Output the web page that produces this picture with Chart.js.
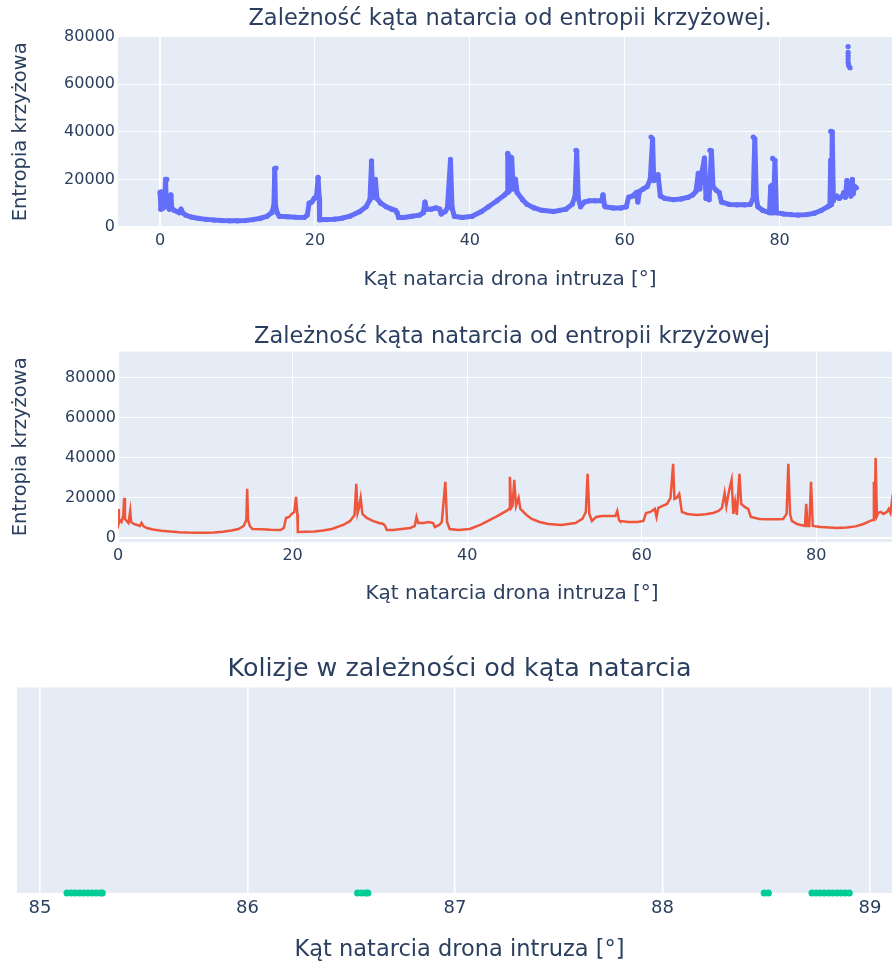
<!DOCTYPE html>
<html>
<head>
<meta charset="utf-8">
<script src="https://cdn.jsdelivr.net/npm/chart.js@4"></script>
<style>
  html, body { margin: 0; background: #fff; overflow: hidden; }
  canvas { position: absolute; left: 0; }
</style>
</head>
<body>
<canvas id="scatter-chart" width="906" height="300" style="top:0px"></canvas>
<canvas id="line-chart" width="906" height="320" style="top:300px"></canvas>
<canvas id="collision-chart" width="906" height="344" style="top:620px"></canvas>
<script>
// angle of attack [deg] vs cross entropy
const angles = [
  0.0, 0.1, 0.2, 0.4, 0.6, 0.7, 0.8, 1.0, 1.2, 1.4,
  1.5, 1.8, 2.2, 2.5, 2.7, 2.9, 3.3, 4.0, 5.0, 6.0,
  7.0, 8.0, 9.0, 10.0, 11.0, 12.0, 13.0, 13.8, 14.4, 14.7,
  14.8, 14.9, 15.1, 15.4, 16.5, 17.5, 18.6, 19.0, 19.25, 19.6,
  19.9, 20.2, 20.4, 20.55, 20.6, 21.5, 22.5, 23.5, 24.5, 25.8,
  26.6, 27.1, 27.3, 27.45, 27.6, 27.8, 28.0, 28.5, 29.2, 29.9,
  30.4, 30.6, 30.8, 31.5, 32.5, 33.5, 34.0, 34.2, 34.4, 35.0,
  35.6, 36.1, 36.3, 36.8, 37.1, 37.5, 37.7, 38.0, 39.0, 40.3,
  41.5, 42.4, 43.5, 44.5, 44.8, 44.9, 45.05, 45.2, 45.4, 45.6,
  45.9, 46.1, 46.8, 47.4, 48.3, 49.3, 50.8, 51.6, 52.4, 53.2,
  53.6, 53.8, 54.0, 54.3, 54.8, 55.4, 56.2, 57.0, 57.2, 57.4,
  57.5, 58.5, 59.5, 60.2, 60.5, 61.0, 61.5, 61.7, 61.9, 62.4,
  62.9, 63.3, 63.6, 63.75, 64.0, 64.3, 64.6, 65.2, 66.3, 67.3,
  68.2, 68.8, 69.2, 69.5, 69.7, 70.0, 70.3, 70.5, 70.7, 70.9,
  71.2, 71.4, 71.8, 72.2, 72.5, 73.5, 74.5, 75.5, 76.2, 76.6,
  76.8, 77.0, 77.2, 77.8, 78.7, 78.85, 79.0, 79.2, 79.4, 79.6,
  80.5, 81.5, 82.4, 83.5, 84.5, 85.4, 86.2, 86.5, 86.6, 86.7,
  86.8, 86.95, 87.1, 87.4, 87.7, 88.1, 88.3, 88.5, 88.7, 89.0,
  89.2, 89.4, 89.5, 89.7, 89.9
];
const entropy = [
  14500, 7500, 9000, 8000, 11000, 20000, 9500, 8500, 7500, 13500,
  8000, 7000, 6500, 6000, 7500, 6000, 5000, 4200, 3600, 3200,
  2900, 2700, 2600, 2600, 2700, 3100, 3700, 4500, 6000, 9000,
  24500, 9000, 6000, 4500, 4300, 4100, 4000, 5000, 10000, 10500,
  12000, 13000, 20500, 12000, 3000, 3100, 3300, 3700, 4500, 6500,
  8500, 11500, 27000, 12500, 15000, 20000, 12000, 10000, 8500, 7500,
  7000, 6000, 4000, 4000, 4500, 5000, 6000, 10500, 7500, 7500,
  8000, 7500, 5500, 6500, 8000, 28000, 8000, 4500, 4000, 4500,
  6500, 8500, 11000, 13500, 14500, 30500, 15000, 16000, 29000, 16000,
  20000, 14500, 11500, 9500, 8000, 7000, 6500, 7000, 7500, 9500,
  13000, 32000, 12000, 8500, 10500, 11000, 11000, 11000, 13500, 9000,
  8500, 8000, 8000, 8500, 12500, 13000, 14500, 10500, 15000, 16000,
  17000, 20000, 37000, 19500, 20000, 22000, 13000, 12000, 11500, 11800,
  12500, 13500, 15000, 22500, 16000, 23500, 29000, 12000, 18000, 11500,
  32000, 17000, 15500, 14500, 10500, 9500, 9300, 9300, 9500, 12000,
  37000, 12000, 8500, 7000, 6000, 17000, 6000, 6000, 28000, 6000,
  5500, 5200, 5000, 5200, 5800, 7000, 8500, 9000, 28000, 9500,
  40000, 11000, 12500, 13000, 12000, 13000, 14500, 12500, 19500, 16000,
  13000, 20000, 14000, 17000, 16500
];

// isolated markers above the spikes in the scatter view
const outlierAngles = [
  0.1, 0.86, 14.96, 20.4, 27.3, 37.5, 44.9, 45.3, 53.7, 63.4,
  71.0, 76.6, 79.1, 79.0, 86.6, 88.85, 88.85, 88.85, 88.85, 88.85,
  88.9, 89.0, 89.1
];
const outlierEntropy = [
  14800, 20000, 24800, 20900, 27800, 28400, 30900, 29400, 32200, 37800,
  32200, 37800, 28800, 17500, 40200, 75800, 73400, 72000, 70600, 69200,
  68200, 67300, 66900
];

// collisions
const collisionAngles = [
  85.13, 85.15, 85.17, 85.19, 85.21, 85.23, 85.25, 85.27, 85.29, 85.30,
  86.53, 86.55, 86.57, 86.58,
  88.49, 88.51,
  88.72, 88.74, 88.76, 88.78, 88.80, 88.82, 88.84, 88.86, 88.88, 88.90
];
const collisionValues = [
  0, 0, 0, 0, 0, 0, 0, 0, 0, 0,
  0, 0, 0, 0,
  0, 0,
  0, 0, 0, 0, 0, 0, 0, 0, 0, 0
];

// tick labels
const angleTicks = [0, 20, 40, 60, 80];
const entropyTicks = [0, 20000, 40000, 60000, 80000];
const collisionTicks = [85, 86, 87, 88, 89];

const TEXT = '#2a3f5f';
Chart.defaults.font.family = "'DejaVu Sans', Verdana, sans-serif";
Chart.defaults.color = TEXT;

const plotBg = {
  id: 'plotBg',
  beforeDraw(chart) {
    const { ctx, chartArea: a } = chart;
    ctx.save();
    ctx.fillStyle = '#E5ECF6';
    ctx.fillRect(a.left, a.top, a.right - a.left, a.bottom - a.top);
    ctx.restore();
  }
};

const toPoints = (xs, ys) => xs.map((x, i) => ({ x: x, y: ys[i] }));
const useTicks = list => s => { s.ticks = list.map(v => ({ value: v })); };
const plain = v => String(v);
const gridStyle = {
  color: '#ffffff',
  lineWidth: c => (c.tick && c.tick.value === 0 ? 2 : 1),
  drawTicks: false
};

function baseOptions(titleText, titleSize, titlePad) {
  return {
    responsive: false,
    animation: false,
    devicePixelRatio: 1,
    layout: { padding: 0 },
    plugins: {
      legend: { display: false },
      tooltip: { enabled: false },
      title: {
        display: true,
        text: titleText,
        fullSize: false,
        color: TEXT,
        font: { size: titleSize, weight: 'normal' },
        padding: titlePad
      }
    }
  };
}

// 1) scatter
const opt1 = baseOptions('Zależność kąta natarcia od entropii krzyżowej.', 22.5, { top: 6, bottom: 3.6 });
opt1.scales = {
  x: {
    type: 'linear', min: -5.44, max: 95.81,
    grid: gridStyle, border: { display: false },
    afterBuildTicks: useTicks(angleTicks),
    ticks: { callback: plain, font: { size: 16 }, padding: 4 },
    title: { display: true, text: 'Kąt natarcia drona intruza [°]', font: { size: 20 }, padding: { top: 0, bottom: 8 } },
    afterFit: s => { s.height = 73; }
  },
  y: {
    min: 0, max: 80000,
    grid: gridStyle, border: { display: false },
    afterBuildTicks: useTicks(entropyTicks),
    ticks: { callback: plain, font: { size: 16 }, padding: 3 },
    title: { display: true, text: 'Entropia krzyżowa', font: { size: 19.5 }, padding: { top: 9, bottom: 0 } },
    afterFit: s => { s.width = 118; }
  }
};
new Chart(document.getElementById('scatter-chart'), {
  type: 'scatter',
  data: {
    datasets: [
      {
        label: 'Entropia',
        data: toPoints(angles, entropy),
        showLine: true,
        borderColor: '#636efa',
        borderWidth: 5,
        borderJoinStyle: 'round',
        borderCapStyle: 'round',
        pointRadius: 2.6,
        pointBorderWidth: 0,
        backgroundColor: '#636efa'
      },
      {
        label: 'Entropia (pojedyncze)',
        data: toPoints(outlierAngles, outlierEntropy),
        pointRadius: 2.6,
        pointBorderWidth: 0,
        backgroundColor: '#636efa'
      }
    ]
  },
  options: opt1,
  plugins: [plotBg]
});

// 2) line
const opt2 = baseOptions('Zależność kąta natarcia od entropii krzyżowej', 22.5, { top: 23.8, bottom: 0.8 });
opt2.scales = {
  x: {
    type: 'linear', min: 0, max: 90.28,
    grid: gridStyle, border: { display: false },
    afterBuildTicks: useTicks(angleTicks),
    ticks: { callback: plain, font: { size: 16 }, padding: 4 },
    title: { display: true, text: 'Kąt natarcia drona intruza [°]', font: { size: 20 }, padding: { top: 0, bottom: 14 } },
    afterFit: s => { s.height = 78; }
  },
  y: {
    min: -2000, max: 93000,
    grid: gridStyle, border: { display: false },
    afterBuildTicks: useTicks(entropyTicks),
    ticks: { callback: plain, font: { size: 16 }, padding: 2 },
    title: { display: true, text: 'Entropia krzyżowa', font: { size: 19.5 }, padding: { top: 9, bottom: 0 } },
    afterFit: s => { s.width = 118; }
  }
};
new Chart(document.getElementById('line-chart'), {
  type: 'scatter',
  data: {
    datasets: [{
      label: 'Entropia',
      data: toPoints(angles, entropy),
      showLine: true,
      borderColor: '#EF553B',
      borderWidth: 2.5,
      pointRadius: 0
    }]
  },
  options: opt2,
  plugins: [plotBg]
});

// 3) collisions
const opt3 = baseOptions('Kolizje w zależności od kąta natarcia', 25.4, { top: 34, bottom: 3 });
opt3.layout = { padding: { left: 17, right: 0, top: 0, bottom: 0 } };
opt3.scales = {
  x: {
    type: 'linear', min: 84.889, max: 89.154,
    grid: { color: '#ffffff', lineWidth: 1.5, drawTicks: false }, border: { display: false },
    afterBuildTicks: useTicks(collisionTicks),
    ticks: { callback: plain, font: { size: 18 }, padding: 5 },
    title: { display: true, text: 'Kąt natarcia drona intruza [°]', font: { size: 22.5 }, padding: { top: 0, bottom: 0 } },
    afterFit: s => { s.height = 71; }
  },
  y: { display: false, min: 0, max: 4 }
};
new Chart(document.getElementById('collision-chart'), {
  type: 'scatter',
  data: {
    datasets: [{
      label: 'Kolizje',
      data: toPoints(collisionAngles, collisionValues),
      pointRadius: 3.5,
      pointBorderWidth: 0,
      backgroundColor: '#00cc96',
      clip: false
    }]
  },
  options: opt3,
  plugins: [plotBg]
});
</script>
</body>
</html>
